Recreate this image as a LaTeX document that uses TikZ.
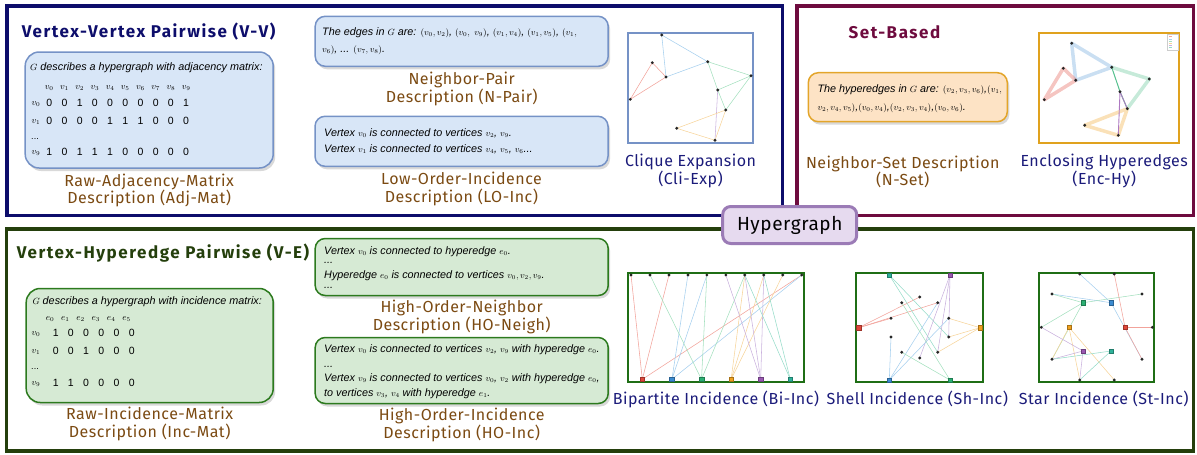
\documentclass[tikz,border=0pt]{standalone}
\usepackage{fontspec}
\setmainfont{Liberation Sans}
\newfontfamily\labelfont[LetterSpace=3]{Fira Sans}
\newfontfamily\titlefont[LetterSpace=9]{Fira Sans}
\DeclareMathSizes{10.8}{9}{6.5}{5}
\usetikzlibrary{positioning, shadows, backgrounds}

\definecolor{vvnavy}{HTML}{0D0D6B}
\definecolor{setmaroon}{HTML}{6E0B3E}
\definecolor{vegreen}{HTML}{243F0C}
\definecolor{labelbrown}{HTML}{7B4A12}
\definecolor{graphnavy}{HTML}{1B1B7A}
\definecolor{boxblue}{HTML}{D8E6F7}
\definecolor{boxblueline}{HTML}{7592C6}
\definecolor{boxgreen}{HTML}{D6EAD4}
\definecolor{boxgreenline}{HTML}{2C7A1E}
\definecolor{boxorange}{HTML}{FDE3C5}
\definecolor{boxorangeline}{HTML}{E3A52A}
\definecolor{hgfill}{HTML}{E6DAEF}
\definecolor{hgline}{HTML}{9B7BB6}
\definecolor{encgold}{HTML}{E0A21E}
\definecolor{incgreen}{HTML}{1F6E15}
\definecolor{ered}{HTML}{F2A39B}
\definecolor{eblue}{HTML}{A6CFEE}
\definecolor{egreen}{HTML}{A5E0BF}
\definecolor{eorange}{HTML}{F7D49A}
\definecolor{epurple}{HTML}{C9B1DD}
\definecolor{eteal}{HTML}{96DCC9}
\definecolor{sqred}{HTML}{E0473A}
\definecolor{sqblue}{HTML}{3A8BD1}
\definecolor{sqgreen}{HTML}{2BB072}
\definecolor{sqorange}{HTML}{F0A11E}
\definecolor{sqpurple}{HTML}{9A58B2}
\definecolor{sqteal}{HTML}{2FB29A}

\begin{document}
\begin{tikzpicture}[x=1pt, y=-1pt]
    \tikzset{
        panel/.style={line width=3.2pt},
        paneltitle/.style={
            anchor=west,
            inner sep=0pt,
            font=\titlefont\bfseries\fontsize{17}{19}\selectfont
        },
        descbox/.style={
            rectangle,
            rounded corners=10pt,
            inner sep=0pt,
            line width=1.5pt,
            drop shadow={opacity=0.3, shadow xshift=2pt, shadow yshift=-3pt}
        },
        bluebox/.style={descbox, fill=boxblue, draw=boxblueline},
        greenbox/.style={descbox, fill=boxgreen, draw=boxgreenline},
        orangebox/.style={descbox, fill=boxorange, draw=boxorangeline},
        boxtext/.style={
            anchor=base west,
            inner sep=0pt,
            font=\itshape\fontsize{10.8}{12}\selectfont
        },
        matnum/.style={inner sep=0pt, font=\fontsize{10.5}{12}\selectfont},
        matlbl/.style={inner sep=0pt, font=\fontsize{9}{10}\selectfont},
        desclabel/.style={
            align=center,
            inner sep=0pt,
            text=labelbrown,
            font=\labelfont\fontsize{16}{17.5}\selectfont
        },
        graphlabel/.style={desclabel, text=graphnavy},
        graphframe/.style={rectangle, draw, inner sep=0pt, line width=1.8pt},
        vdot/.style={circle, fill=black!85, minimum size=3.2pt, inner sep=0pt},
        sqnode/.style={rectangle, minimum size=4.5pt, inner sep=0pt, line width=0.5pt},
        gedge/.style={line width=0.55pt},
        hyedge/.style={line width=3.5pt, opacity=0.45, line join=round, line cap=round},
        hgnode/.style={
            rectangle,
            rounded corners=8pt,
            fill=hgfill,
            draw=hgline,
            line width=3pt,
            inner sep=0pt,
            font=\labelfont\fontsize{19}{21}\selectfont
        }
    }

    \useasboundingbox (0,0) rectangle (1197,455);

    % panels
    \draw[panel, draw=vvnavy] (7,6) rectangle (782.5,215.5);
    \draw[panel, draw=setmaroon] (797,6) rectangle (1193.5,215.5);
    \draw[panel, draw=vegreen] (6.5,229) rectangle (1193.5,451);

    \node[paneltitle, text=vvnavy] (vvtitle) at (21.7,31.7) {Vertex-Vertex Pairwise (V-V)};
    \node[paneltitle, text=setmaroon, anchor=center] (settitle) at (894.5,31.7) {Set-Based};
    \node[paneltitle, text=vegreen] (vetitle) at (16.7,253.3) {Vertex-Hyperedge Pairwise (V-E)};

    % vertex-vertex descriptions
    \node[bluebox, rounded corners=14pt, minimum width=248pt, minimum height=116pt] (adjbox) at (149.2,110) {};
    \node[boxtext] (adjtext) at (30,70) {$G$ describes a hypergraph with adjacency matrix:};
    \foreach \c in {0,...,9}
        \node[matlbl] (adjh\c) at ({49.3+15.2*\c},88.3) {$v_{\c}$};
    \foreach \r/\yy/\vals in {0/103.3/{0,0,1,0,0,0,0,0,0,1}, 1/120.7/{0,0,0,0,1,1,1,0,0,0}, 9/151.7/{1,0,1,1,1,0,0,0,0,0}} {
        \node[matlbl] (adjr\r) at (36,\yy+1) {$v_{\r}$};
        \foreach \d [count=\c from 0] in \vals
            \node[matnum] (adj\r-\c) at ({49.3+15.2*\c},\yy) {\d};
    }
    \node[matlbl] (adjdots) at (35,139) {...};
    \node[desclabel, below=5pt of adjbox] (adjlabel) {Raw-Adjacency-Matrix\\Description (Adj-Mat)};

    \node[bluebox, minimum width=293pt, minimum height=50pt] (npairbox) at (461.7,41.3) {};
    \node[boxtext] (npair1) at (322,35) {The edges in $G$ are: $(v_0, v_2)$, $(v_0,\ v_9)$, $(v_1 , v_4)$, $(v_1, v_5)$, $(v_1,$};
    \node[boxtext] (npair2) at (322,52.5) {$v_6)$, ... $(v_7, v_8)$.};
    \node[desclabel, below=5pt of npairbox] (npairlabel) {Neighbor-Pair\\Description (N-Pair)};

    \node[bluebox, minimum width=293pt, minimum height=50pt] (loincbox) at (461.5,141.3) {};
    \node[boxtext] (loinc1) at (324,136) {Vertex $v_0$ is connected to vertices $v_2$, $v_9$.};
    \node[boxtext] (loinc2) at (324,152) {Vertex $v_1$ is connected to vertices $v_4$, $v_5$, $v_6$...};
    \node[desclabel, below=5pt of loincbox] (loinclabel) {Low-Order-Incidence\\Description (LO-Inc)};

    % clique expansion
    \node[graphframe, draw=boxblueline, minimum width=125.6pt, minimum height=110.6pt] (cliframe) at (690.5,88) {};
    \foreach \i/\px/\py in {0/661.7/35, 1/652.3/62.7, 2/666/77, 3/630.3/99.3, 4/707.7/61.7,
                            5/751/75.7, 6/717.7/90, 7/725.7/110, 8/676.7/128.3, 9/715/140.3}
        \node[vdot] (cl\i) at (\px,\py) {};
    \begin{scope}[on background layer]
        \foreach \a/\b/\col in {0/2/eblue, 0/4/eblue, 2/4/eblue, 1/2/ered, 1/3/ered, 3/2/ered,
                                4/5/egreen, 4/6/egreen, 6/7/egreen, 5/6/egreen, 5/7/egreen,
                                6/9/epurple, 7/8/eorange, 8/9/eorange, 7/9/eorange}
            \draw[gedge, draw=\col] (cl\a.center) -- (cl\b.center);
    \end{scope}
    \node[graphlabel, below=10pt of cliframe] (clilabel) {Clique Expansion\\(Cli-Exp)};

    % set-based
    \node[orangebox, minimum width=199pt, minimum height=49pt] (nsetbox) at (907.8,97.2) {};
    \node[boxtext] (nset1) at (817.3,92) {The hyperedges in $G$ are: $(v_2,v_3,v_6)$,$(v_1,$};
    \node[boxtext] (nset2) at (817.3,110) {$v_2, v_4,v_5)$,$(v_0,v_4)$,$(v_2,v_3,v_4)$,$(v_0,v_6)$.};
    \node[desclabel, below=33pt of nsetbox, xshift=-5pt] (nsetlabel) {Neighbor-Set Description\\(N-Set)};

    \node[graphframe, draw=encgold, line width=2pt, minimum width=140.3pt, minimum height=110.6pt] (encframe) at (1109.2,88) {};
    \foreach \i/\px/\py in {0/1071.7/43.3, 1/1063.3/68.3, 2/1075.7/80.3, 3/1044.3/99.7, 4/1111.7/67.3,
                            5/1149.3/79, 6/1120/91.7, 7/1127.3/108.7, 8/1084.7/125.3, 9/1118.3/135.3}
        \node[vdot] (en\i) at (\px,\py) {};
    \begin{scope}[on background layer]
        \draw[hyedge, draw=sqblue!60] (en0.center) -- (en2.center) -- (en4.center) -- cycle;
        \draw[hyedge, draw=sqred!70] (en1.center) -- (en3.center) -- (en2.center) -- cycle;
        \draw[hyedge, draw=sqgreen!60] (en4.center) -- (en5.center) -- (en7.center);
        \draw[line width=1pt, draw=sqgreen!80] (en4.center) -- (en6.center) -- (en7.center);
        \draw[hyedge, draw=sqorange!70] (en8.center) -- (en9.center) -- (en7.center) -- cycle;
        \draw[line width=0.9pt, draw=sqpurple!80] (en6.center) -- (en9.center);
        \draw[line width=0.9pt, draw=sqpurple!80] (en6.center) -- (en7.center);
    \end{scope}
    \node[draw=black!20, line width=0.3pt, minimum width=11pt, minimum height=16pt, inner sep=0pt] (enclegend) at (1172.5,42) {};
    \foreach \col [count=\k] in {ered, eblue, egreen, eorange, epurple, eteal}
        \draw[draw=\col, line width=0.7pt] (1169,{34.5+2.2*\k}) -- ++(3,0);
    \node[graphlabel, below=10pt of encframe, xshift=-5pt] (enclabel) {Enclosing Hyperedges\\(Enc-Hy)};

    % vertex-hyperedge descriptions
    \node[greenbox, rounded corners=14pt, minimum width=247pt, minimum height=114pt] (incbox) at (149.7,345.5) {};
    \node[boxtext] (inctext) at (32.3,304.5) {$G$ describes a hypergraph with incidence matrix:};
    \foreach \c in {0,...,5}
        \node[matlbl] (inch\c) at ({50+15.3*\c},318.7) {$e_{\c}$};
    \foreach \r/\yy/\vals in {0/333.3/{1,0,0,0,0,0}, 1/351/{0,0,1,0,0,0}, 9/382.7/{1,1,0,0,0,0}} {
        \node[matlbl] (incr\r) at (36,\yy+1) {$v_{\r}$};
        \foreach \d [count=\c from 0] in \vals
            \node[matnum] (inc\r-\c) at ({55.7+15.2*\c},\yy) {\d};
    }
    \node[matlbl] (incdots) at (35,369) {...};
    \node[desclabel, below=4pt of incbox] (inclabel) {Raw-Incidence-Matrix\\Description (Inc-Mat)};

    \node[greenbox, minimum width=293pt, minimum height=57pt] (honeighbox) at (461.7,267) {};
    \node[boxtext] (honeigh1) at (324,254.5) {Vertex $v_0$ is connected to hyperedge $e_0$.};
    \node[boxtext] (honeigh2) at (324,263.5) {...};
    \node[boxtext] (honeigh3) at (324,278.5) {Hyperedge $e_0$ is connected to vertices $v_0, v_2, v_9$.};
    \node[boxtext] (honeigh4) at (324,288) {...};
    \node[desclabel, below=4pt of honeighbox] (honeighlabel) {High-Order-Neighbor\\Description (HO-Neigh)};

    \node[greenbox, minimum width=293pt, minimum height=66pt] (hoincbox) at (461.7,370.5) {};
    \node[boxtext] (hoinc1) at (324,352.8) {Vertex $v_0$ is connected to vertices $v_2$, $v_9$ with hyperedge $e_0$.};
    \node[boxtext] (hoinc2) at (324,367) {...};
    \node[boxtext] (hoinc3) at (324,381) {Vertex $v_9$ is connected to vertices $v_0$, $v_2$ with hyperedge $e_0$,};
    \node[boxtext] (hoinc4) at (324,396.8) {to vertices $v_3$, $v_4$ with hyperedge $e_1$.};
    \node[desclabel, below=4pt of hoincbox] (hoinclabel) {High-Order-Incidence\\Description (HO-Inc)};

    % bipartite incidence
    \node[graphframe, draw=incgreen, line width=2.2pt, minimum width=176.6pt, minimum height=109.6pt] (biframe) at (716,327.5) {};
    \foreach \i in {0,...,9}
        \node[vdot] (bv\i) at ({631+18.97*\i},275) {};
    \foreach \e/\col in {0/sqred, 1/sqblue, 2/sqgreen, 3/sqorange, 4/sqpurple, 5/sqteal}
        \node[sqnode, fill=\col, draw=\col!70!black] (be\e) at ({642.3+29.6*\e},379.3) {};
    \begin{scope}[on background layer]
        \foreach \e/\vs/\col in {0/{0,2,9}/ered, 1/{3,4,9}/eblue, 2/{1,4,6}/egreen,
                                 3/{6,7,8}/eorange, 4/{5,6,7}/epurple, 5/{6,7}/eteal}
            \foreach \v in \vs
                \draw[gedge, draw=\col] (bv\v.center) -- (be\e.center);
    \end{scope}
    \node[graphlabel, below=7pt of biframe] (bilabel) {Bipartite Incidence (Bi-Inc)};

    % shell incidence
    \node[graphframe, draw=incgreen, line width=2.2pt, minimum width=126.7pt, minimum height=109.6pt] (shframe) at (919.3,327.5) {};
    \foreach \i/\px/\py in {0/919.7/297, 1/901.7/302.7, 2/937.7/302.7, 3/891/318.3, 4/948.7/318.3,
                            5/891/337, 6/948.7/337, 7/901.7/352.3, 8/937.7/352.3, 9/919.7/358}
        \node[vdot] (sv\i) at (\px,\py) {};
    \foreach \e/\px/\py/\col in {red/858.7/327.7/sqred, teal/889.3/275/sqteal, purple/950/275/sqpurple,
                                 orange/980/327.7/sqorange, blue/889.3/380/sqblue, green/950/380/sqgreen}
        \node[sqnode, fill=\col, draw=\col!70!black] (sh\e) at (\px,\py) {};
    \begin{scope}[on background layer]
        \foreach \e/\vs/\col in {red/{0,2,3}/ered, teal/{6,8}/eteal, purple/{6,8,9}/epurple,
                                 orange/{4,6,8}/eorange, blue/{5,2,4}/eblue, green/{7,1}/egreen}
            \foreach \v in \vs
                \draw[gedge, draw=\col] (sv\v.center) -- (sh\e.center);
    \end{scope}
    \node[graphlabel, below=7pt of shframe, xshift=-2pt] (shlabel) {Shell Incidence (Sh-Inc)};

    % star incidence
    \node[graphframe, draw=incgreen, line width=2.2pt, minimum width=115.3pt, minimum height=109.6pt] (stframe) at (1096.7,327.5) {};
    \foreach \i/\px/\py in {0/1079.7/274, 1/1114.3/274, 2/1052/294, 3/1142/294, 4/1041.3/327.3,
                            5/1152.3/327.3, 6/1052/359.3, 7/1142/359.3, 8/1079.7/380, 9/1114.3/380}
        \node[vdot] (tv\i) at (\px,\py) {};
    \foreach \e/\px/\py/\col in {green/1083/302.7/sqgreen, blue/1111/302.7/sqblue, orange/1069/327.3/sqorange,
                                 red/1125/327.3/sqred, purple/1083/351/sqpurple, teal/1111/351/sqteal}
        \node[sqnode, fill=\col, draw=\col!70!black] (st\e) at (\px,\py) {};
    \begin{scope}[on background layer]
        \foreach \e/\vs/\col in {blue/{0,2,7}/eblue, green/{2,3,4,6}/egreen, red/{1,5,7}/ered,
                                 orange/{6,8,9}/eorange, purple/{4,6,8}/epurple, teal/{6,8}/eteal}
            \foreach \v in \vs
                \draw[gedge, draw=\col] (tv\v.center) -- (st\e.center);
    \end{scope}
    \node[graphlabel, below=7pt of stframe, xshift=7pt] (stlabel) {Star Incidence (St-Inc)};

    % centre node
    \node[hgnode, minimum width=134pt, minimum height=37pt] (hyper) at (789.7,225) {Hypergraph};

\end{tikzpicture}
\end{document}
